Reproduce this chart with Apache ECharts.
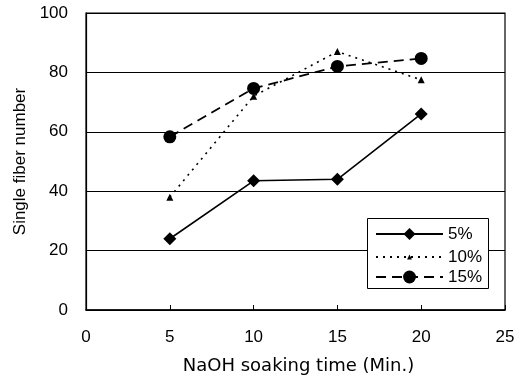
<!DOCTYPE html>
<html>
<head>
<meta charset="utf-8">
<script src="https://cdn.jsdelivr.net/npm/echarts@6/dist/echarts.min.js"></script>
<style>
  * { margin: 0; padding: 0; }
  body { background: #ffffff; }
  #chart { width: 529px; height: 380px; }
</style>
</head>
<body>
<div id="chart"></div>
<script>
// 浸泡时间 (min)
var times = [5, 10, 15, 20];
// 各 NaOH 浓度下的单纤维数
var naoh5 = [24, 43.5, 44, 66];
var naoh10 = [38, 72, 87, 77.5];
var naoh15 = [58.3, 74.6, 82, 84.7];
var seriesNames = ['5%', '10%', '15%'];

var FONT = 'Liberation Sans, Arial, sans-serif';
var WIDE = 'DejaVu Sans, sans-serif';

function pairs(vals) {
  return times.map(function (t, i) { return [t, vals[i]]; });
}

// 每个图例单独一个组件，这样图例里的符号大小可以不同
function legendItem(name, top, h) {
  return {
    orient: 'vertical',
    left: 375, top: top,
    padding: 0,
    itemWidth: 67, itemHeight: h,
    z: 6,
    textStyle: { fontSize: 17, fontFamily: FONT, color: '#000' },
    data: [name]
  };
}

var chart = echarts.init(document.getElementById('chart'), null, { renderer: 'canvas' });

var option = {
  backgroundColor: '#ffffff',
  animation: false,
  textStyle: { fontFamily: FONT, color: '#000' },
  grid: {
    left: 86, right: 24, top: 13, bottom: 70,
    show: true, borderColor: '#000', borderWidth: 1.2
  },
  legend: [
    legendItem(seriesNames[0], 225.5, 15),
    legendItem(seriesNames[1], 248.5, 6),
    legendItem(seriesNames[2], 268.5, 16)
  ],
  graphic: [{
    type: 'rect',
    z: 5,
    shape: { x: 367.5, y: 218.5, width: 121, height: 70 },
    style: { fill: '#fff', stroke: '#000', lineWidth: 1 }
  }],
  xAxis: {
    type: 'value',
    min: 0, max: 25, interval: 5,
    name: 'NaOH soaking time (Min.)',
    nameLocation: 'middle',
    nameGap: 47,
    nameTextStyle: { fontSize: 18, fontFamily: WIDE, color: '#000', padding: [0, 0, 0, 6] },
    axisLine: { show: true, lineStyle: { color: '#000', width: 1.5 } },
    axisTick: { show: true, inside: true, length: 5, lineStyle: { color: '#000' } },
    axisLabel: { fontSize: 17, fontFamily: FONT, color: '#000', margin: 19 },
    splitLine: { show: false }
  },
  yAxis: {
    type: 'value',
    min: 0, max: 100, interval: 20,
    name: 'Single fiber number',
    nameLocation: 'middle',
    nameGap: 57,
    nameTextStyle: { fontSize: 17, fontFamily: FONT, color: '#000' },
    axisLine: { show: true, lineStyle: { color: '#000', width: 1.2 } },
    axisTick: { show: false },
    axisLabel: { fontSize: 17, fontFamily: FONT, color: '#000', margin: 18 },
    splitLine: { show: true, lineStyle: { color: '#000', width: 1 } }
  },
  series: [
    {
      name: seriesNames[0],
      type: 'line',
      data: pairs(naoh5),
      symbol: 'diamond',
      symbolSize: 13,
      itemStyle: { color: '#000' },
      lineStyle: { color: '#000', width: 1.6, type: 'solid' }
    },
    {
      name: seriesNames[1],
      type: 'line',
      data: pairs(naoh10),
      symbol: 'triangle',
      symbolSize: 7,
      itemStyle: { color: '#000' },
      lineStyle: { color: '#000', width: 1.6, type: [2, 5] }
    },
    {
      name: seriesNames[2],
      type: 'line',
      data: pairs(naoh15),
      symbol: 'circle',
      symbolSize: 13,
      itemStyle: { color: '#000' },
      lineStyle: { color: '#000', width: 1.8, type: [10, 6] }
    }
  ]
};

chart.setOption(option);
</script>
</body>
</html>
